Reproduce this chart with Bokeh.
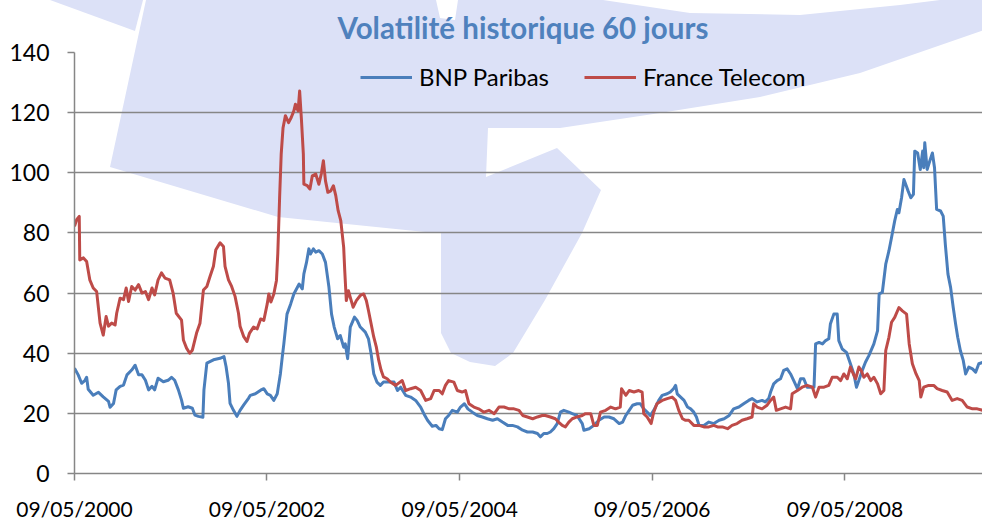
import urllib.parse
import pandas as pd
from bokeh.plotting import figure
from bokeh.models import (Range1d, FixedTicker, DatetimeTickFormatter, Legend,
                          LegendItem, ColumnDataSource)
from bokeh.embed import file_html
from bokeh.resources import INLINE

title_text = "Volatilité historique 60 jours"
series_names = ["BNP Paribas", "France Telecom"]
series_colors = ["#4A7EBB", "#BE4B48"]
x_tick_dates = ["2000-05-09", "2002-05-09", "2004-05-09", "2006-05-09", "2008-05-09"]
y_ticks = [0, 20, 40, 60, 80, 100, 120, 140]

bnp_dates = [
    "2000-05-09", "2000-05-23", "2000-06-05", "2000-06-18", "2000-06-24", "2000-06-30", "2000-07-19", "2000-08-08",
    "2000-08-26", "2000-09-15", "2000-09-21", "2000-10-04", "2000-10-14", "2000-10-29", "2000-11-11", "2000-11-24",
    "2000-12-12", "2000-12-25", "2001-01-07", "2001-01-20", "2001-02-02", "2001-02-14", "2001-02-27", "2001-03-09",
    "2001-03-22", "2001-04-11", "2001-04-29", "2001-05-12", "2001-05-24", "2001-06-07", "2001-06-19", "2001-06-26",
    "2001-07-14", "2001-07-30", "2001-08-09", "2001-08-22", "2001-09-08", "2001-09-12", "2001-09-23", "2001-10-18",
    "2001-11-12", "2001-11-27", "2001-12-05", "2001-12-14", "2001-12-20", "2002-01-02", "2002-01-15", "2002-01-27",
    "2002-02-10", "2002-02-28", "2002-03-07", "2002-03-26", "2002-04-15", "2002-04-27", "2002-05-10", "2002-05-22",
    "2002-06-04", "2002-06-17", "2002-06-29", "2002-07-06", "2002-07-12", "2002-07-24", "2002-08-07", "2002-08-19",
    "2002-09-08", "2002-09-20", "2002-09-26", "2002-10-06", "2002-10-15", "2002-10-21", "2002-11-01", "2002-11-10",
    "2002-11-22", "2002-12-05", "2002-12-17", "2002-12-30", "2003-01-09", "2003-01-19", "2003-02-01", "2003-02-11",
    "2003-02-24", "2003-03-02", "2003-03-11", "2003-03-21", "2003-04-06", "2003-04-16", "2003-04-28", "2003-05-17",
    "2003-05-29", "2003-06-08", "2003-06-18", "2003-06-30", "2003-07-13", "2003-07-25", "2003-08-20", "2003-09-03",
    "2003-09-16", "2003-09-28", "2003-10-17", "2003-11-05", "2003-11-24", "2003-12-13", "2003-12-25", "2004-01-08",
    "2004-01-26", "2004-02-09", "2004-02-21", "2004-03-04", "2004-03-16", "2004-03-28", "2004-04-11", "2004-04-30",
    "2004-05-12", "2004-05-27", "2004-06-09", "2004-06-26", "2004-07-15", "2004-08-03", "2004-08-22", "2004-09-11",
    "2004-09-29", "2004-10-18", "2004-11-07", "2004-11-25", "2004-12-14", "2005-01-03", "2005-01-21", "2005-02-10",
    "2005-02-28", "2005-03-11", "2005-03-24", "2005-04-06", "2005-04-18", "2005-05-01", "2005-05-14", "2005-05-26",
    "2005-06-08", "2005-06-27", "2005-07-10", "2005-07-28", "2005-08-17", "2005-08-23", "2005-09-12", "2005-09-30",
    "2005-10-19", "2005-11-08", "2005-11-26", "2005-12-15", "2006-01-04", "2006-01-17", "2006-01-29", "2006-02-11",
    "2006-02-24", "2006-03-13", "2006-03-25", "2006-04-07", "2006-04-20", "2006-05-02", "2006-05-15", "2006-06-03",
    "2006-06-16", "2006-07-05", "2006-07-17", "2006-07-29", "2006-08-06", "2006-08-12", "2006-08-25", "2006-09-07",
    "2006-09-20", "2006-10-02", "2006-10-14", "2006-10-24", "2006-11-03", "2006-11-21", "2006-12-10", "2006-12-29",
    "2007-01-18", "2007-02-06", "2007-02-25", "2007-03-14", "2007-04-03", "2007-04-21", "2007-05-10", "2007-05-23",
    "2007-06-11", "2007-06-30", "2007-07-12", "2007-07-25", "2007-08-01", "2007-08-13", "2007-08-26", "2007-09-08",
    "2007-09-20", "2007-10-03", "2007-10-16", "2007-10-28", "2007-11-11", "2007-11-23", "2007-12-05", "2007-12-18",
    "2008-01-13", "2008-01-19", "2008-02-01", "2008-02-14", "2008-02-26", "2008-03-09", "2008-03-15", "2008-03-28",
    "2008-04-10", "2008-04-16", "2008-04-29", "2008-05-15", "2008-05-30", "2008-06-12", "2008-06-22", "2008-07-01",
    "2008-07-14", "2008-07-26", "2008-08-08", "2008-08-27", "2008-09-10", "2008-09-16", "2008-09-28", "2008-10-11",
    "2008-10-23", "2008-11-02", "2008-11-14", "2008-11-24", "2008-11-30", "2008-12-10", "2008-12-19", "2008-12-26",
    "2009-01-04", "2009-01-14", "2009-01-24", "2009-01-29", "2009-02-09", "2009-02-19", "2009-02-28", "2009-03-04",
    "2009-03-08", "2009-03-17", "2009-03-27", "2009-04-06", "2009-04-14", "2009-04-22", "2009-05-07", "2009-05-17",
    "2009-05-25", "2009-06-04", "2009-06-14", "2009-06-24", "2009-07-03", "2009-07-11", "2009-07-21", "2009-08-01",
    "2009-08-10", "2009-08-22", "2009-09-05", "2009-09-17", "2009-09-29", "2009-10-14",
]
bnp_vol = [
    35.0, 32.8, 30.0, 31.0, 32.0, 28.0, 26.0, 27.0,
    25.5, 24.0, 22.0, 23.3, 27.8, 29.0, 29.4, 32.8,
    34.4, 36.0, 32.8, 32.8, 31.0, 27.8, 29.0, 27.8,
    31.7, 30.5, 31.0, 32.0, 31.0, 27.8, 24.4, 21.7,
    22.2, 21.7, 19.4, 19.0, 18.7, 27.8, 36.7, 37.8,
    38.3, 38.9, 35.5, 30.0, 23.3, 21.0, 19.0, 21.0,
    22.8, 25.0, 26.0, 26.5, 27.7, 28.2, 26.5, 26.0,
    24.3, 26.5, 33.2, 38.7, 43.1, 53.0, 56.4, 59.7,
    63.0, 61.4, 66.4, 70.2, 74.7, 73.0, 74.7, 73.6,
    74.1, 73.0, 70.2, 62.0, 53.0, 48.7, 44.8, 45.9,
    42.0, 43.1, 38.2, 48.7, 52.0, 50.9, 48.7, 47.0,
    44.8, 39.8, 33.2, 30.4, 29.3, 30.4, 30.4, 30.4,
    27.6, 28.7, 26.0, 25.4, 24.3, 22.1, 19.9, 17.7,
    15.7, 16.0, 14.9, 14.6, 18.2, 19.3, 21.0, 20.4,
    22.1, 23.2, 21.5, 20.4, 19.3, 18.8, 18.2, 17.7,
    18.2, 17.1, 16.0, 16.0, 15.5, 14.4, 13.8, 13.8,
    13.3, 12.2, 13.3, 13.3, 13.8, 14.9, 16.6, 20.4,
    21.0, 20.4, 19.9, 19.3, 16.6, 14.4, 14.9, 16.0,
    17.7, 18.8, 18.8, 18.2, 16.6, 17.1, 19.3, 21.0,
    22.7, 23.2, 23.2, 21.5, 20.4, 19.3, 21.0, 24.3,
    26.0, 26.5, 27.1, 28.2, 29.3, 26.5, 25.4, 24.3,
    22.1, 21.5, 20.4, 18.8, 16.0, 16.0, 17.1, 16.6,
    17.7, 18.2, 19.3, 21.5, 22.1, 23.2, 24.3, 24.9,
    23.8, 24.3, 23.8, 24.9, 27.0, 29.8, 30.9, 31.5,
    34.3, 34.8, 33.1, 30.9, 28.2, 31.5, 31.5, 28.7,
    28.7, 43.1, 43.6, 43.1, 44.2, 44.8, 49.7, 53.0,
    53.0, 44.2, 41.4, 40.3, 36.5, 33.1, 28.7, 30.9,
    34.3, 37.0, 39.2, 43.1, 47.5, 59.7, 60.2, 69.6,
    74.0, 78.5, 84.0, 87.8, 86.7, 91.7, 97.8, 96.1,
    93.9, 91.7, 92.8, 107.2, 106.6, 101.1, 107.2, 101.7,
    110.0, 101.1, 103.9, 106.6, 101.7, 87.8, 87.3, 85.6,
    76.2, 66.3, 61.9, 55.2, 49.7, 45.3, 40.9, 37.6,
    33.1, 35.4, 34.8, 33.7, 36.5, 37.0,
]

ft_dates = [
    "2000-05-09", "2000-05-17", "2000-05-27", "2000-05-29", "2000-06-12", "2000-06-24", "2000-07-06", "2000-07-19",
    "2000-08-01", "2000-08-14", "2000-08-26", "2000-09-06", "2000-09-15", "2000-09-27", "2000-10-10", "2000-10-16",
    "2000-10-29", "2000-11-11", "2000-11-21", "2000-11-30", "2000-12-12", "2000-12-25", "2001-01-07", "2001-01-20",
    "2001-02-02", "2001-02-14", "2001-02-27", "2001-03-09", "2001-03-22", "2001-04-04", "2001-04-17", "2001-05-05",
    "2001-05-18", "2001-05-30", "2001-06-19", "2001-06-26", "2001-07-08", "2001-07-20", "2001-07-30", "2001-08-15",
    "2001-08-28", "2001-09-10", "2001-09-23", "2001-10-05", "2001-10-18", "2001-10-27", "2001-11-12", "2001-11-25",
    "2001-12-01", "2001-12-14", "2001-12-26", "2002-01-08", "2002-01-21", "2002-01-27", "2002-02-10", "2002-02-22",
    "2002-03-04", "2002-03-19", "2002-04-02", "2002-04-15", "2002-04-27", "2002-05-10", "2002-05-16", "2002-05-24",
    "2002-06-04", "2002-06-14", "2002-06-19", "2002-06-26", "2002-07-02", "2002-07-09", "2002-07-18", "2002-07-30",
    "2002-08-09", "2002-08-19", "2002-08-25", "2002-09-04", "2002-09-10", "2002-09-17", "2002-09-24", "2002-09-26",
    "2002-10-09", "2002-10-19", "2002-10-28", "2002-11-10", "2002-11-22", "2002-12-01", "2002-12-09", "2002-12-17",
    "2002-12-26", "2003-01-06", "2003-01-16", "2003-01-25", "2003-02-03", "2003-02-13", "2003-02-24", "2003-02-28",
    "2003-03-06", "2003-03-14", "2003-03-21", "2003-04-01", "2003-04-13", "2003-04-28", "2003-05-11", "2003-05-21",
    "2003-05-29", "2003-06-08", "2003-06-18", "2003-06-28", "2003-07-07", "2003-07-16", "2003-07-25", "2003-08-08",
    "2003-08-20", "2003-09-09", "2003-10-04", "2003-10-17", "2003-11-05", "2003-11-24", "2003-12-13", "2004-01-01",
    "2004-01-20", "2004-02-02", "2004-02-21", "2004-03-04", "2004-03-16", "2004-03-28", "2004-04-17", "2004-04-30",
    "2004-05-18", "2004-05-31", "2004-06-13", "2004-07-02", "2004-07-20", "2004-08-09", "2004-08-28", "2004-09-17",
    "2004-10-05", "2004-10-24", "2004-11-13", "2004-12-01", "2004-12-20", "2005-01-03", "2005-01-21", "2005-02-10",
    "2005-02-28", "2005-03-18", "2005-03-30", "2005-04-18", "2005-05-07", "2005-05-19", "2005-06-02", "2005-06-14",
    "2005-06-27", "2005-07-10", "2005-07-28", "2005-08-17", "2005-08-29", "2005-09-18", "2005-09-30", "2005-10-13",
    "2005-10-25", "2005-11-14", "2005-12-03", "2005-12-21", "2006-01-08", "2006-01-13", "2006-01-29", "2006-02-11",
    "2006-03-01", "2006-03-19", "2006-04-01", "2006-04-07", "2006-04-20", "2006-05-05", "2006-05-15", "2006-05-27",
    "2006-06-16", "2006-07-05", "2006-07-24", "2006-08-06", "2006-08-18", "2006-09-01", "2006-09-13", "2006-09-25",
    "2006-10-14", "2006-11-03", "2006-11-21", "2006-12-10", "2006-12-29", "2007-01-12", "2007-01-30", "2007-02-19",
    "2007-03-08", "2007-03-27", "2007-04-15", "2007-05-04", "2007-05-23", "2007-05-29", "2007-06-11", "2007-06-30",
    "2007-07-19", "2007-08-01", "2007-08-13", "2007-08-23", "2007-09-08", "2007-09-27", "2007-10-16", "2007-10-22",
    "2007-11-11", "2007-11-29", "2007-12-18", "2008-01-07", "2008-01-19", "2008-02-01", "2008-02-20", "2008-03-09",
    "2008-03-22", "2008-04-10", "2008-04-23", "2008-05-05", "2008-05-18", "2008-05-30", "2008-06-10", "2008-06-19",
    "2008-07-01", "2008-07-10", "2008-07-20", "2008-08-02", "2008-08-15", "2008-08-27", "2008-09-10", "2008-09-22",
    "2008-10-04", "2008-10-11", "2008-10-23", "2008-11-02", "2008-11-14", "2008-11-30", "2008-12-13", "2008-12-29",
    "2009-01-08", "2009-01-20", "2009-02-03", "2009-02-15", "2009-02-21", "2009-03-04", "2009-03-23", "2009-04-11",
    "2009-04-24", "2009-05-13", "2009-06-01", "2009-06-20", "2009-07-09", "2009-07-28", "2009-08-16", "2009-09-05",
    "2009-09-23", "2009-10-14",
]
ft_vol = [
    82.2, 84.4, 85.5, 71.0, 71.7, 70.5, 64.4, 61.7,
    60.5, 50.0, 46.0, 52.2, 49.0, 50.0, 49.4, 53.3,
    58.3, 57.8, 61.7, 57.2, 62.2, 61.0, 62.8, 60.0,
    60.5, 57.8, 61.7, 59.4, 64.4, 66.7, 65.0, 64.4,
    60.0, 53.3, 51.0, 44.4, 41.7, 40.0, 41.0, 46.7,
    50.0, 61.0, 62.2, 65.5, 68.9, 74.4, 76.7, 75.5,
    68.9, 64.4, 62.2, 58.9, 53.3, 49.0, 45.5, 43.9,
    46.7, 48.7, 48.1, 51.4, 50.9, 56.4, 59.7, 57.0,
    59.7, 64.2, 73.0, 91.8, 106.2, 115.0, 119.0, 116.7,
    118.4, 120.6, 122.8, 120.6, 127.2, 117.3, 106.2, 96.2,
    95.7, 94.6, 99.0, 99.6, 96.2, 99.6, 104.0, 97.3,
    93.5, 94.0, 95.7, 92.4, 87.4, 84.1, 75.2, 67.5,
    57.5, 60.8, 58.6, 55.3, 57.5, 59.2, 59.7, 57.5,
    54.2, 49.8, 45.4, 42.0, 37.6, 34.3, 32.1, 31.5,
    30.4, 29.3, 30.9, 27.6, 28.2, 28.7, 27.6, 24.3,
    24.9, 27.6, 27.6, 26.5, 29.3, 30.9, 30.4, 27.6,
    27.1, 27.6, 23.2, 22.1, 21.5, 20.4, 21.0, 19.9,
    22.1, 22.1, 21.5, 21.5, 21.0, 19.3, 18.8, 18.2,
    18.8, 19.3, 19.3, 18.8, 18.2, 17.1, 16.0, 15.5,
    17.1, 18.2, 18.8, 19.3, 19.9, 19.9, 16.0, 16.0,
    20.4, 21.0, 22.1, 21.5, 22.1, 28.2, 26.0, 27.6,
    27.1, 27.6, 27.1, 19.9, 18.8, 16.6, 20.4, 23.2,
    24.3, 24.9, 25.4, 24.3, 21.0, 18.2, 17.7, 17.7,
    16.0, 16.0, 15.5, 15.5, 16.0, 15.5, 15.5, 14.9,
    16.0, 16.6, 17.7, 18.2, 18.8, 23.2, 22.1, 21.5,
    22.7, 24.3, 25.4, 21.0, 21.5, 22.1, 21.5, 26.5,
    27.6, 28.7, 29.3, 28.7, 25.4, 28.7, 28.7, 29.3,
    32.0, 32.0, 30.9, 33.1, 31.5, 35.4, 33.1, 31.5,
    35.4, 34.3, 32.0, 33.1, 30.9, 32.0, 29.8, 26.5,
    27.6, 40.9, 45.3, 50.3, 51.9, 55.2, 54.1, 53.0,
    43.1, 36.5, 33.1, 30.9, 25.4, 28.7, 29.3, 29.3,
    28.2, 27.6, 27.1, 24.3, 24.9, 24.3, 22.1, 21.5,
    21.5, 21.0,
]

W, H = 982, 523

# decorative background watermark (faint logo outline, in page pixels), drawn as a CSS background
wm_main_x = [146, 436, 440, 455, 458, 603, 690, 800, 900, 940, 990, 990, 860, 760, 660, 560, 488, 486, 557, 601, 582, 545, 513, 495, 470, 451, 441, 441, 435, 278, 110]
wm_main_y = [0, 0, 18, 20, 0, 0, 13, 15, 5, 0, 0, 28, 73, 97, 113, 128, 128, 177, 148, 190, 233, 300, 353, 366, 362, 353, 333, 233, 233, 217, 167]
wm_stripe_x = [50, 143, 135]
wm_stripe_y = [0, 0, 31]
wm_color = "#DCE1F7"

def _poly(xs, ys):
    pts = " ".join(f"{x},{y}" for x, y in zip(xs, ys))
    return f"<polygon points='{pts}' fill='{wm_color}'/>"

wm_svg = (f"<svg xmlns='http://www.w3.org/2000/svg' width='{W}' height='{H}'>"
          + _poly(wm_main_x, wm_main_y) + _poly(wm_stripe_x, wm_stripe_y) + "</svg>")
wm_url = 'url("data:image/svg+xml,' + urllib.parse.quote(wm_svg) + '")'

p = figure(width=W, height=H, x_axis_type="datetime", output_backend="svg",
           toolbar_location=None, min_border_left=74, min_border_right=0,
           min_border_top=51, min_border_bottom=0,
           x_range=Range1d(pd.Timestamp("2000-05-09"), pd.Timestamp("2009-10-13")),
           y_range=Range1d(0, 140),
           styles={"background-color": "white", "background-image": wm_url,
                   "background-repeat": "no-repeat", "background-position": "0 0"})
p.outline_line_color = None
p.background_fill_color = None
p.border_fill_color = None

src_bnp = ColumnDataSource(dict(date=pd.to_datetime(bnp_dates), vol=bnp_vol))
src_ft = ColumnDataSource(dict(date=pd.to_datetime(ft_dates), vol=ft_vol))
r_bnp = p.line("date", "vol", source=src_bnp, line_color=series_colors[0], line_width=3, line_join="round")
r_ft = p.line("date", "vol", source=src_ft, line_color=series_colors[1], line_width=3, line_join="round")

grey = "#868686"
p.xgrid.visible = False
p.ygrid.ticker = FixedTicker(ticks=y_ticks)
p.ygrid.grid_line_color = grey
p.ygrid.grid_line_width = 1.5

p.yaxis.ticker = FixedTicker(ticks=y_ticks)
p.xaxis.ticker = FixedTicker(ticks=[pd.Timestamp(d).value // 10**6 for d in x_tick_dates])
fmt = "%d/%m/%Y"
p.xaxis.formatter = DatetimeTickFormatter(days=fmt, months=fmt, years=fmt, hours=fmt, hourmin=fmt)
for ax in (p.xaxis[0], p.yaxis[0]):
    ax.axis_line_color = grey
    ax.axis_line_width = 1.5
    ax.major_tick_line_color = grey
    ax.major_tick_line_width = 1.5
    ax.major_tick_out = 7
    ax.major_tick_in = 0
    ax.minor_tick_line_color = None
    ax.major_label_text_font = "Lato"
    ax.major_label_text_color = "black"
p.yaxis.major_label_text_font_size = "23px"
p.xaxis.major_label_text_font_size = "21px"
p.yaxis.major_label_standoff = 18
p.xaxis.major_label_standoff = 15

p.title.text = title_text
p.title.align = "left"
p.title.offset = 263
p.title.standoff = 15
p.title.text_font = "Lato"
p.title.text_font_style = "bold"
p.title.text_font_size = "29.5px"
p.title.text_color = "#4F81BD"

legend = Legend(items=[LegendItem(label=series_names[0], renderers=[r_bnp]),
                       LegendItem(label=series_names[1], renderers=[r_ft])],
                orientation="horizontal", location=(286, 382),
                border_line_color=None, background_fill_alpha=0,
                padding=0, margin=0, spacing=35, glyph_width=52, glyph_height=20,
                label_standoff=7, label_text_font="Lato", label_text_font_size="24px",
                label_text_color="black")
p.add_layout(legend)

open("out.html", "w").write(file_html(p, INLINE))
